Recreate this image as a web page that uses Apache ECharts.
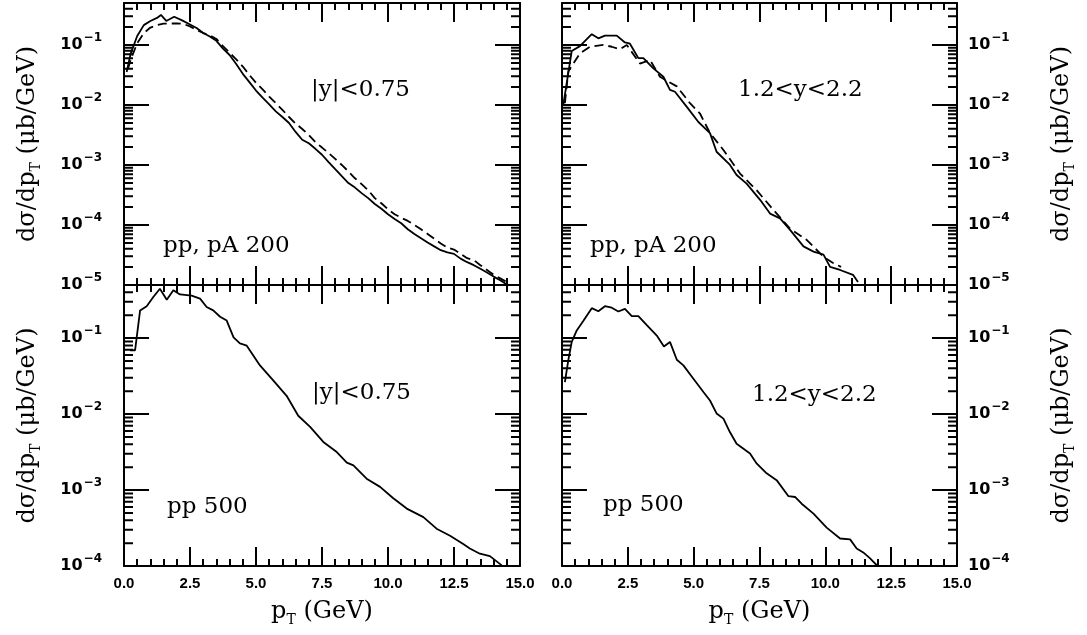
<!DOCTYPE html>
<html>
<head>
<meta charset="utf-8">
<script src="https://cdn.jsdelivr.net/npm/echarts@6/dist/echarts.min.js"></script>
<style>
  html, body { margin: 0; padding: 0; background: #fff; }
  #chart { width: 1087px; height: 635px; }
</style>
</head>
<body>
<div id="chart"></div>
<script>
// ---- pp, pA at 200 GeV, |y|<0.75 ----
const ptA_pp = [0.1,0.25,0.5,0.75,1.0,1.25,1.4,1.6,1.9,2.2,2.5,2.75,3.0,3.25,3.5,3.75,4.0,4.25,4.5,4.75,5.0,5.25,5.5,5.75,6.0,6.25,6.5,6.75,7.0,7.25,7.5,7.75,8.0,8.25,8.5,8.75,9.0,9.25,9.5,9.75,10.0,10.25,10.5,10.75,11.0,11.25,11.5,11.75,12.0,12.25,12.5,12.75,13.0,13.25,13.5,13.75,14.0,14.25,14.5];
const sigA_pp = [3.55e-2,7.1e-2,0.141,0.214,0.251,0.282,0.316,0.251,0.295,0.257,0.219,0.191,0.158,0.138,0.117,8.7e-2,6.8e-2,4.8e-2,3.3e-2,2.4e-2,1.74e-2,1.32e-2,1.02e-2,7.8e-3,6.3e-3,5.0e-3,3.55e-3,2.63e-3,2.3e-3,1.86e-3,1.48e-3,1.12e-3,8.5e-4,6.5e-4,5.0e-4,4.2e-4,3.4e-4,2.8e-4,2.24e-4,1.86e-4,1.51e-4,1.26e-4,1.07e-4,8.5e-5,7.1e-5,6.0e-5,5.1e-5,4.4e-5,3.8e-5,3.5e-5,3.3e-5,2.75e-5,2.4e-5,2.14e-5,1.86e-5,1.62e-5,1.38e-5,1.2e-5,1.02e-5];
const ptA_pA = [0.15,0.25,0.5,0.75,1.0,1.25,1.5,2.0,2.25,2.5,2.75,3.0,3.25,3.5,3.75,4.0,4.25,4.5,4.75,5.0,5.25,5.5,5.75,6.0,6.25,6.5,6.75,7.0,7.25,7.5,7.75,8.0,8.25,8.5,8.75,9.0,9.25,9.5,9.75,10.0,10.25,10.5,10.75,11.0,11.25,11.5,11.75,12.0,12.25,12.5,12.75,13.0,13.25,13.5,13.75,14.0,14.25,14.5];
const sigA_pA = [3.98e-2,5.62e-2,0.107,0.158,0.195,0.214,0.226,0.229,0.224,0.204,0.178,0.158,0.145,0.126,9.55e-2,7.41e-2,5.75e-2,4.37e-2,3.16e-2,2.34e-2,1.82e-2,1.38e-2,1.07e-2,8.3e-3,6.3e-3,4.9e-3,3.98e-3,3.16e-3,2.4e-3,1.95e-3,1.58e-3,1.26e-3,1.0e-3,7.8e-4,6.0e-4,4.8e-4,3.8e-4,2.8e-4,2.3e-4,1.82e-4,1.51e-4,1.32e-4,1.17e-4,1.0e-4,8.5e-5,7.1e-5,5.9e-5,4.9e-5,4.2e-5,3.9e-5,3.3e-5,2.8e-5,2.6e-5,2.14e-5,1.78e-5,1.48e-5,1.29e-5,1.12e-5];

// ---- pp, pA at 200 GeV, 1.2<y<2.2 ----
const ptB_pp = [0.05,0.37,0.68,1.13,1.38,1.63,2.08,2.39,2.58,2.9,3.09,3.47,3.85,4.1,4.29,4.74,5.18,5.5,5.62,5.87,6.38,6.63,7.01,7.53,7.9,8.28,8.66,9.17,9.55,9.93,10.18,10.56,11.05,11.24];
const sigB_pp = [1.0e-2,7.94e-2,9.55e-2,0.151,0.129,0.143,0.143,0.110,0.105,6.03e-2,6.03e-2,4.07e-2,2.95e-2,1.78e-2,1.66e-2,9.3e-3,5.2e-3,3.8e-3,3.4e-3,1.66e-3,1.0e-3,6.8e-4,4.9e-4,2.6e-4,1.55e-4,1.29e-4,8.3e-5,4.4e-5,3.6e-5,3.2e-5,2.0e-5,1.78e-5,1.48e-5,1.12e-5];
const ptB_pA = [0.11,0.24,0.68,1.06,1.57,1.89,2.2,2.46,2.96,3.34,3.72,4.36,4.86,5.24,5.62,6.13,6.76,7.39,8.03,8.66,9.3,9.93,10.31,10.6];
const sigB_pA = [1.07e-2,3.63e-2,7.24e-2,9.33e-2,0.1,9.33e-2,8.51e-2,0.1,4.9e-2,5.62e-2,2.95e-2,2.04e-2,1.07e-2,7.2e-3,3.4e-3,1.78e-3,7.2e-4,3.8e-4,1.78e-4,8.7e-5,5.6e-5,2.95e-5,2.3e-5,2.0e-5];

// ---- pp at 500 GeV, |y|<0.75 ----
const ptC = [0.23,0.42,0.61,0.86,1.11,1.36,1.62,1.87,2.12,2.56,2.88,3.13,3.38,3.64,3.89,4.15,4.39,4.65,5.15,5.66,6.16,6.6,7.05,7.55,8.06,8.44,8.69,9.19,9.7,10.2,10.71,11.34,11.84,12.35,12.85,13.1,13.48,13.86,14.31];
const sigC = [6.92e-2,6.92e-2,0.231,0.263,0.347,0.447,0.320,0.427,0.376,0.363,0.331,0.257,0.232,0.191,0.170,0.102,8.51e-2,7.94e-2,4.37e-2,2.75e-2,1.74e-2,9.5e-3,6.8e-3,4.3e-3,3.16e-3,2.29e-3,2.11e-3,1.41e-3,1.10e-3,7.8e-4,5.7e-4,4.4e-4,3.1e-4,2.5e-4,1.95e-4,1.70e-4,1.45e-4,1.35e-4,1.02e-4];

// ---- pp at 500 GeV, 1.2<y<2.2 ----
const ptD = [0.11,0.24,0.37,0.56,0.82,1.13,1.38,1.63,1.89,2.14,2.39,2.65,2.9,3.22,3.6,3.87,4.1,4.36,4.61,4.99,5.37,5.62,5.87,6.13,6.38,6.63,7.14,7.39,7.77,8.15,8.6,8.85,9.1,9.55,10.05,10.56,10.94,11.19,11.44,11.7,11.98];
const sigD = [2.63e-2,5.13e-2,8.91e-2,0.126,0.170,0.248,0.226,0.263,0.251,0.224,0.243,0.195,0.195,0.148,0.108,7.76e-2,8.91e-2,5.19e-2,4.37e-2,2.92e-2,1.95e-2,1.51e-2,1.02e-2,8.7e-3,5.75e-3,4.07e-3,3.02e-3,2.24e-3,1.66e-3,1.35e-3,8.3e-4,8.1e-4,6.6e-4,4.9e-4,3.2e-4,2.3e-4,2.24e-4,1.70e-4,1.51e-4,1.26e-4,1.0e-4];

// axis ranges and panel captions
const xRange = [0, 15];
const xTickStep = 2.5;
const yRangeTop = [1e-5, 0.5];
const yRangeBottom = [1e-4, 0.5];
const panelTexts = [
  ['|y|<0.75', 'pp, pA 200'],
  ['1.2<y<2.2', 'pp, pA 200'],
  ['|y|<0.75', 'pp 500'],
  ['1.2<y<2.2', 'pp 500']
];

// ---------------- layout ----------------
const grids = [
  { left: 124, top: 3,   width: 396, height: 282 },
  { left: 562, top: 3,   width: 395, height: 282 },
  { left: 124, top: 285, width: 396, height: 281 },
  { left: 562, top: 285, width: 395, height: 281 }
];
const textSpots = [
  [[311, 90], [163, 246]],
  [[738, 90], [590, 246]],
  [[312, 393], [167, 507]],
  [[752, 395], [603, 505]]
];
const tickLen = { xMajor: 19, xMinor: 7, yMajor: 25, yMinor: 9 };

const INK = '#000';

function decadeLabel(v) {
  const l = Math.log10(v), e = Math.round(l);
  if (Math.abs(l - e) > 1e-6) return '';
  return '{b|10}{e|\u2212' + (-e) + '}';
}
function tickRich() {
  return {
    b: { fontFamily: 'DejaVu Sans', fontWeight: 'bold', fontSize: 16, lineHeight: 26, color: INK, padding: [0, 1, 0, 0] },
    e: { fontFamily: 'DejaVu Sans', fontWeight: 'bold', fontSize: 12, lineHeight: 26, verticalAlign: 'top', color: INK }
  };
}

const yTitle = '{m|d\u03c3/dp}{s|T}{m| (\u03bcb/GeV)}';
const xTitle = '{m|p}{s|T}{m| (GeV)}';
function titleStyle() {
  return {
    color: INK, fontFamily: 'DejaVu Serif', fontSize: 24,
    rich: {
      m: { fontFamily: 'DejaVu Serif', fontSize: 24, lineHeight: 30, color: INK },
      s: { fontFamily: 'DejaVu Serif', fontSize: 14, verticalAlign: 'bottom', color: INK }
    }
  };
}

function xAxisFor(g, position, withLabels) {
  return {
    type: 'value', gridIndex: g, position, min: xRange[0], max: xRange[1], interval: xTickStep,
    axisLine: { show: true, onZero: false, lineStyle: { color: INK, width: 2 } },
    axisTick: { show: true, inside: true, length: tickLen.xMajor, lineStyle: { color: INK, width: 2 } },
    minorTick: { show: true, splitNumber: 5, length: tickLen.xMinor, lineStyle: { color: INK, width: 2 } },
    splitLine: { show: false },
    axisLabel: { show: withLabels, margin: 10, color: INK, fontSize: 15, fontWeight: 'bold', formatter: v => v.toFixed(1) },
    name: withLabels ? xTitle : '', nameLocation: 'middle', nameGap: 31,
    nameTextStyle: titleStyle()
  };
}

function yAxisFor(g, position, range, withLabels) {
  const left = position === 'left';
  return {
    type: 'log', logBase: 10, gridIndex: g, position, min: range[0], max: range[1],
    axisLine: { show: true, onZero: false, lineStyle: { color: INK, width: 2 } },
    axisTick: { show: true, inside: true, length: tickLen.yMajor, lineStyle: { color: INK, width: 2 } },
    splitLine: { show: false },
    axisLabel: { show: withLabels, margin: left ? 22 : 11, formatter: decadeLabel, rich: tickRich() },
    name: withLabels ? yTitle : '', nameLocation: 'middle', nameRotate: 90,
    nameGap: left ? 81 : 90, nameTextStyle: titleStyle()
  };
}

// minor ticks of a decade axis (2..9 x 10^k) on both frame sides, as short
// polyline pieces in data space; pixel lengths come from grid size and range
function minorTickSeries(g, range) {
  const gr = grids[g];
  const dx = tickLen.yMinor * (xRange[1] - xRange[0]) / gr.width;
  const gap = [NaN, NaN];
  const pts = [];
  for (let e = Math.floor(Math.log10(range[0])); e <= Math.ceil(Math.log10(range[1])); e++) {
    for (let m = 2; m <= 9; m++) {
      const v = m * Math.pow(10, e);
      if (!(v > range[0] * 1.0001 && v < range[1] * 0.9999)) continue;
      pts.push([xRange[0], v], [xRange[0] + dx, v], gap, [xRange[1] - dx, v], [xRange[1], v], gap);
    }
  }
  return {
    type: 'line', xAxisIndex: 2 * g, yAxisIndex: 2 * g, data: pts,
    showSymbol: false, silent: true, clip: false, connectNulls: false,
    lineStyle: { color: INK, width: 2 }
  };
}

function curve(g, xs, ys, dashed) {
  return {
    type: 'line', xAxisIndex: 2 * g, yAxisIndex: 2 * g,
    data: xs.map((x, i) => [x, ys[i]]),
    showSymbol: false,
    lineStyle: { color: INK, width: 1.8, type: dashed ? [9, 5] : 'solid' }
  };
}

const ranges = [yRangeTop, yRangeTop, yRangeBottom, yRangeBottom];
const xAxes = [], yAxes = [];
grids.forEach((gr, g) => {
  const bottomRow = g >= 2, rightCol = g % 2 === 1;
  xAxes.push(xAxisFor(g, 'bottom', bottomRow));
  xAxes.push(xAxisFor(g, 'top', false));
  yAxes.push(yAxisFor(g, 'left', ranges[g], !rightCol));
  yAxes.push(yAxisFor(g, 'right', ranges[g], rightCol));
});

const series = [
  curve(0, ptA_pp, sigA_pp, false), curve(0, ptA_pA, sigA_pA, true),
  curve(1, ptB_pp, sigB_pp, false), curve(1, ptB_pA, sigB_pA, true),
  curve(2, ptC, sigC, false),
  curve(3, ptD, sigD, false)
];
grids.forEach((gr, g) => series.push(minorTickSeries(g, ranges[g])));

const graphics = [];
panelTexts.forEach((pair, g) => pair.forEach((t, k) => {
  graphics.push({
    type: 'text', x: textSpots[g][k][0], y: textSpots[g][k][1], silent: true,
    style: { text: t, fill: INK, font: '23px DejaVu Serif', textVerticalAlign: 'middle', verticalAlign: 'middle' }
  });
}));

const chart = echarts.init(document.getElementById('chart'), null, { renderer: 'canvas' });
chart.setOption({
  animation: false,
  grid: grids,
  xAxis: xAxes,
  yAxis: yAxes,
  series,
  graphic: graphics
});
</script>
</body>
</html>
